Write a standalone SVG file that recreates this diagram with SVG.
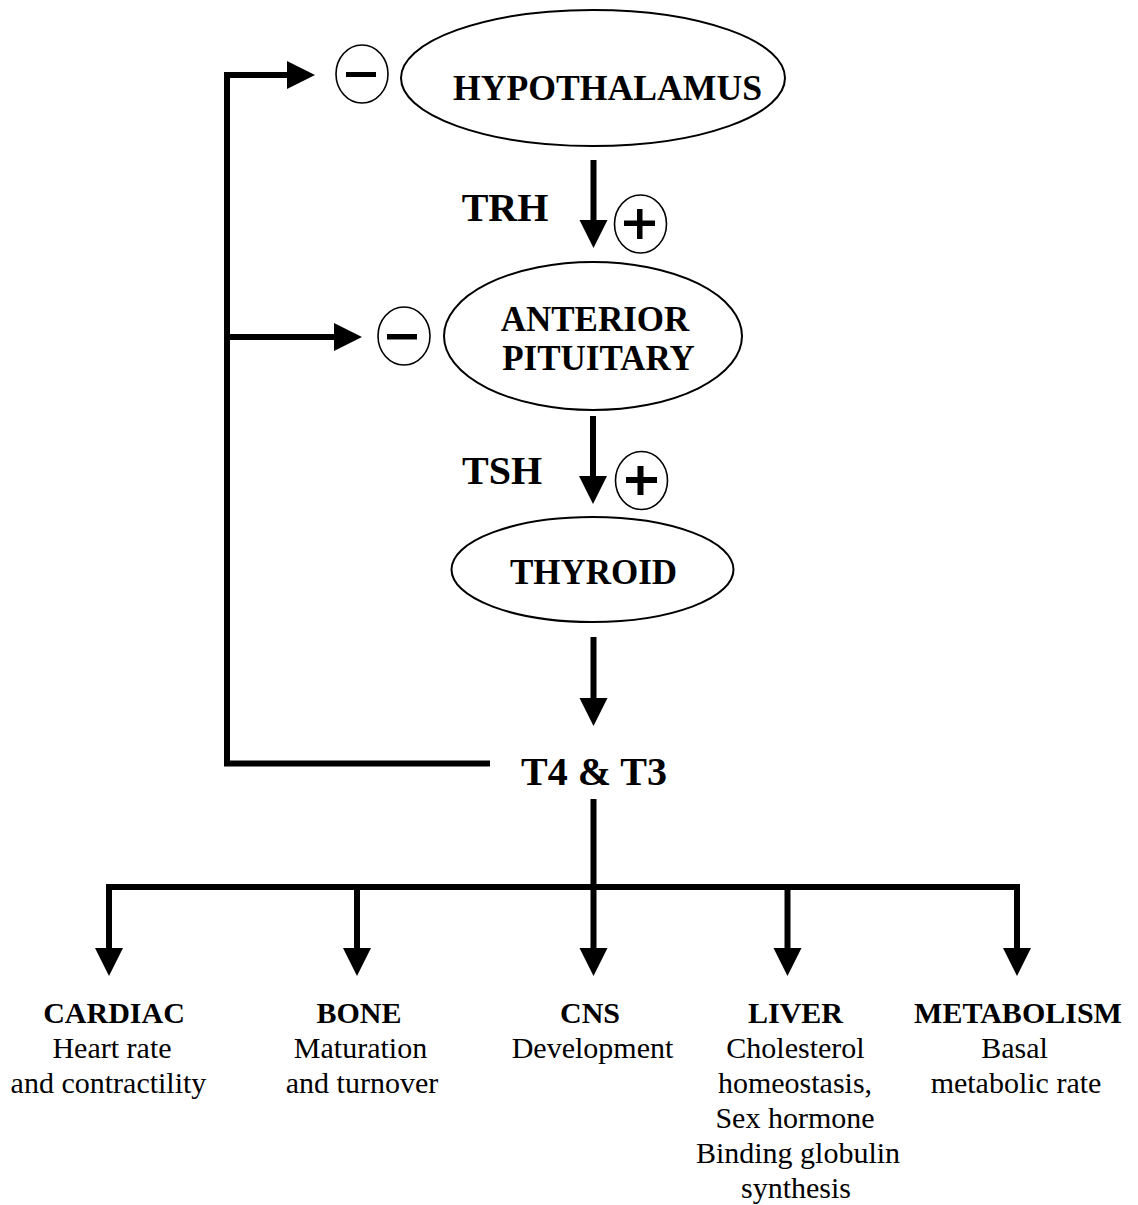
<svg xmlns="http://www.w3.org/2000/svg" width="1138" height="1205" viewBox="0 0 1138 1205">
<style>
.bg{fill:#fff}
.node{fill:#fff;stroke:#000;stroke-width:2}
.sign{fill:#fff;stroke:#000;stroke-width:1.6}
.bar{fill:#000}
.conn{fill:none;stroke:#000;stroke-width:6;stroke-linejoin:miter}
.b{font-family:"Liberation Serif","Times New Roman",serif;font-weight:bold;fill:#000;text-anchor:middle}
.r{font-family:"Liberation Serif","Times New Roman",serif;font-weight:normal;fill:#000;text-anchor:middle;font-size:30px}
</style>
<defs>
<marker id="ah" markerUnits="userSpaceOnUse" markerWidth="30" markerHeight="30" refX="0" refY="0" orient="auto" overflow="visible">
<path d="M0,-14 L28,0 L0,14 Z" fill="#000"/>
</marker>
</defs>
<rect class="bg" x="0" y="0" width="1138" height="1205"/>

<g id="connectors">
<path class="conn" d="M286 75 H227 V763.5 H490"/>
<path class="conn" d="M227 75 H287" marker-end="url(#ah)"/>
<path class="conn" d="M227 337 H334" marker-end="url(#ah)"/>
<path class="conn" d="M593.5 160 V220" marker-end="url(#ah)"/>
<path class="conn" d="M593 416 V476" marker-end="url(#ah)"/>
<path class="conn" d="M593.5 637 V698" marker-end="url(#ah)"/>
<path class="conn" d="M593.5 799 V887"/>
<path class="conn" d="M106 887 H1020"/>
<path class="conn" d="M109 887 V948" marker-end="url(#ah)"/>
<path class="conn" d="M357 887 V948" marker-end="url(#ah)"/>
<path class="conn" d="M593.5 887 V948" marker-end="url(#ah)"/>
<path class="conn" d="M787.5 887 V948" marker-end="url(#ah)"/>
<path class="conn" d="M1017 887 V948" marker-end="url(#ah)"/>
<text class="b" x="505" y="221" font-size="40">TRH</text>
<text class="b" x="502" y="484" font-size="40">TSH</text>
</g>

<g id="sign-minus-hypothalamus">
<ellipse class="sign" cx="362" cy="74" rx="26" ry="29"/>
<rect class="bar" x="346" y="72" width="30" height="5"/>
</g>
<g id="sign-minus-pituitary">
<ellipse class="sign" cx="404" cy="336" rx="26" ry="29"/>
<rect class="bar" x="387" y="334" width="30" height="5.5"/>
</g>
<g id="sign-plus-trh">
<ellipse class="sign" cx="640.5" cy="224" rx="26" ry="29"/>
<rect class="bar" x="624" y="220.5" width="31" height="5.5"/>
<rect class="bar" x="637" y="209" width="5.5" height="30"/>
</g>
<g id="sign-plus-tsh">
<ellipse class="sign" cx="641.5" cy="480.5" rx="26" ry="29"/>
<rect class="bar" x="626" y="477" width="31" height="6"/>
<rect class="bar" x="637.5" y="466" width="6" height="29"/>
</g>

<g id="hypothalamus">
<ellipse class="node" cx="593" cy="78" rx="192" ry="68"/>
<text class="b" x="607.5" y="100" font-size="36" textLength="309" lengthAdjust="spacingAndGlyphs">HYPOTHALAMUS</text>
</g>
<g id="anterior-pituitary">
<ellipse class="node" cx="593" cy="336" rx="149" ry="74"/>
<text class="b" x="595" y="331" font-size="35">ANTERIOR</text>
<text class="b" x="598.5" y="370" font-size="35">PITUITARY</text>
</g>
<g id="thyroid">
<ellipse class="node" cx="592.5" cy="569.5" rx="141" ry="52.5"/>
<text class="b" x="593.5" y="584" font-size="35">THYROID</text>
</g>
<g id="t4t3">
<text class="b" x="594" y="785" font-size="40">T4 &amp; T3</text>
</g>

<g id="cardiac">
<text class="b" x="114" y="1023" font-size="30">CARDIAC</text>
<text class="r" x="112" y="1058">Heart rate</text>
<text class="r" x="108.5" y="1093">and contractility</text>
</g>
<g id="bone">
<text class="b" x="359" y="1023" font-size="30">BONE</text>
<text class="r" x="360.5" y="1058">Maturation</text>
<text class="r" x="362" y="1093">and turnover</text>
</g>
<g id="cns">
<text class="b" x="590" y="1023" font-size="30">CNS</text>
<text class="r" x="592.5" y="1058">Development</text>
</g>
<g id="liver">
<text class="b" x="795.5" y="1023" font-size="30">LIVER</text>
<text class="r" x="795.5" y="1058">Cholesterol</text>
<text class="r" x="795" y="1093">homeostasis,</text>
<text class="r" x="795" y="1128">Sex hormone</text>
<text class="r" x="798" y="1163">Binding globulin</text>
<text class="r" x="796" y="1198">synthesis</text>
</g>
<g id="metabolism">
<text class="b" x="1018" y="1023" font-size="30">METABOLISM</text>
<text class="r" x="1014.5" y="1058">Basal</text>
<text class="r" x="1016" y="1093">metabolic rate</text>
</g>
</svg>
